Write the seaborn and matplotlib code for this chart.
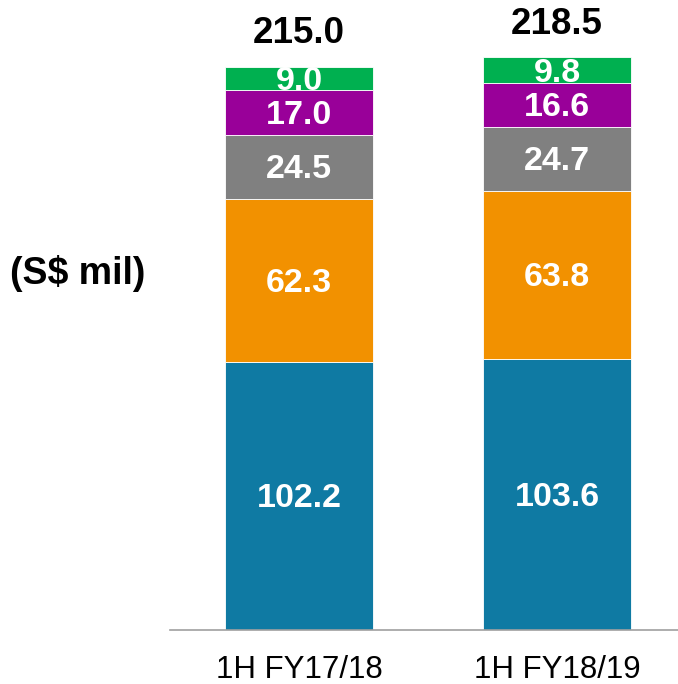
import numpy as np
import pandas as pd
import matplotlib
matplotlib.use("Agg")
import matplotlib.pyplot as plt
import seaborn as sns

periods = ["1H FY17/18", "1H FY18/19"]
seg1 = [102.2, 103.6]   # blue
seg2 = [62.3, 63.8]     # orange
seg3 = [24.5, 24.7]     # grey
seg4 = [17.0, 16.6]     # purple
seg5 = [9.0, 9.8]       # green
totals = [215.0, 218.5]

segments = [seg1, seg2, seg3, seg4, seg5]
colors = ["#0F7AA3", "#F29100", "#808080", "#990099", "#00B050"]

sns.set_theme(style="white")
plt.rcParams["font.family"] = ["Liberation Sans", "DejaVu Sans"]

fig = plt.figure(figsize=(6.78, 6.84), dpi=100)
ax = fig.add_axes([170 / 678, 54 / 684, 508 / 678, 630 / 684])

bottom = np.zeros(len(periods))
for vals, col in zip(segments, colors):
    df = pd.DataFrame({"period": periods, "value": vals})
    sns.barplot(data=df, x="period", y="value", ax=ax, color=col,
                width=0.574, bottom=bottom, edgecolor="white",
                linewidth=0.6, saturation=1, errorbar=None)
    cont = ax.containers[-1]
    ax.bar_label(cont, labels=[f"{v:.1f}" for v in vals], label_type="center",
                 color="white", fontsize=24.5, fontweight="bold", padding=-2)
    bottom = bottom + np.array(vals)

for i, t in enumerate(totals):
    ax.text(i, t + 6, f"{t:.1f}", ha="center", va="bottom",
            fontsize=26.5, fontweight="bold", color="black")

ax.set_xlim(-0.5, 1.469)
ax.set_ylim(0, 240.4)
ax.set_xlabel("")
ax.set_ylabel("")
ax.set_yticks([])
for s in ["left", "right", "top"]:
    ax.spines[s].set_visible(False)
ax.spines["bottom"].set_color("#A0A0A0")
ax.spines["bottom"].set_linewidth(1.2)
ax.tick_params(axis="x", length=0, pad=18, labelsize=22.5, labelcolor="black")

fig.text(10 / 678, 1 - 273 / 684, "(S$ mil)", ha="left", va="center",
         fontsize=27, fontweight="bold", color="black")

fig.savefig("out.png", dpi=100)
